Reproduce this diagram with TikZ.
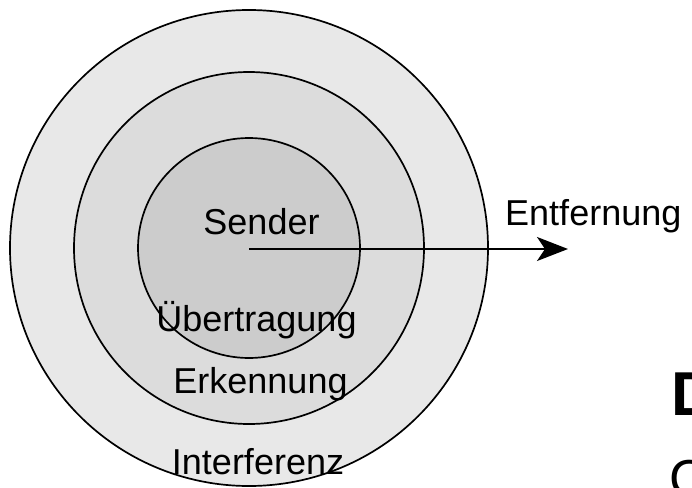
\documentclass[tikz,border=0pt]{standalone}
\usepackage{fontspec}
\setmainfont{Liberation Sans}
\usetikzlibrary{arrows.meta}
\definecolor{zoneout}{RGB}{232,232,232}
\definecolor{zonemid}{RGB}{220,220,220}
\definecolor{zonein}{RGB}{204,204,204}
\tikzset{
  zone/.style={draw=black, line width=1.7pt},
  lbl/.style={inner sep=0pt, anchor=base, font=\fontsize{36}{40}\selectfont},
}
\begin{document}
\begin{tikzpicture}[x=1pt, y=-1pt]
  \useasboundingbox (0,0) rectangle (692,487);
  \clip (0,0) rectangle (692,487);
  \coordinate (c) at (249,248);
  % range zones around the sender
  \fill[white] (0,0) rectangle (692,487);
  \draw[zone, fill=zoneout] (c) ellipse [x radius=239, y radius=238];
  \draw[zone, fill=zonemid] (c) ellipse [x radius=175, y radius=176];
  \draw[zone, fill=zonein] (c) ellipse [x radius=111, y radius=110];
  % distance axis
  \coordinate (tip) at (568,249);
  \draw[line width=2.2pt, -{Stealth[length=31pt, width=24pt, inset=8pt]}] (249,249) -- (tip);
  % labels
  \node[lbl] (sender) at (261.5,234) {Sender};
  \node[lbl] (uebertragung) at (256.5,331) {Übertragung};
  \node[lbl] (erkennung) at (260.5,393) {Erkennung};
  \node[lbl] (interferenz) at (258,474) {Interferenz};
  \node[lbl, anchor=base west] (entfernung) at (505,225) {Entfernung};
  % text running in from the right edge
  \node[inner sep=0pt, anchor=base west, font=\fontsize{62}{66}\selectfont\bfseries] (d) at (671,415) {D};
  \node[inner sep=0pt, anchor=base west, font=\fontsize{52}{56}\selectfont] (cc) at (669,496) {C};
\end{tikzpicture}
\end{document}
